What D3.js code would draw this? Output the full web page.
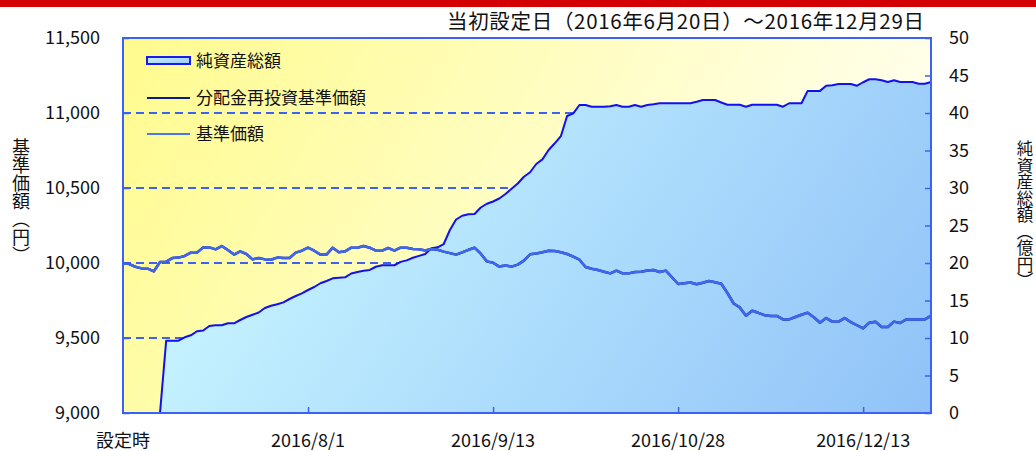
<!DOCTYPE html>
<html><head><meta charset="utf-8">
<script src="https://cdn.jsdelivr.net/npm/d3@7"></script>
<style>
body{margin:0;background:#fff;}
svg{display:block;font-family:"Noto Sans CJK JP","Noto Sans",sans-serif;}
</style>
</head><body>
<svg id="chart" width="1036" height="451"></svg>
<script>
// ---- data ----
const titleText = "当初設定日（2016年6月20日）～2016年12月29日";
const leftAxisTitle = "基準価額（円）";
const rightAxisTitle = "純資産総額（億円）";
const legendLabels = ["純資産総額", "分配金再投資基準価額", "基準価額"];
const xTickLabels = ["設定時", "2016/8/1", "2016/9/13", "2016/10/28", "2016/12/13"];
const xTickIndex = [0, 30, 60, 90, 120];
const leftTicks = [9000, 9500, 10000, 10500, 11000, 11500];
const rightTicks = [0, 5, 10, 15, 20, 25, 30, 35, 40, 45, 50];
const gridValues = [9500, 10000, 10500, 11000];

// 基準価額 (円)
const navValues = [
10000,9993,9975,9964,9962,9944,10007,10009,10033,10036,
10047,10069,10069,10104,10104,10091,10113,10087,10056,10078,
10060,10024,10033,10024,10022,10036,10033,10033,10069,10082,
10102,10082,10056,10056,10102,10071,10078,10102,10102,10113,
10102,10082,10082,10100,10082,10102,10102,10093,10091,10084,
10093,10088,10076,10066,10056,10071,10088,10102,10062,10011,
10002,9976,9984,9976,9989,10016,10058,10064,10072,10082,
10080,10072,10060,10042,10022,9973,9962,9953,9942,9931,
9949,9931,9931,9940,9942,9950,9953,9940,9949,9905,
9860,9865,9870,9858,9868,9880,9872,9862,9800,9730,
9704,9648,9682,9668,9652,9647,9647,9624,9624,9640,
9655,9669,9638,9602,9633,9609,9609,9633,9606,9585,
9564,9602,9609,9573,9573,9609,9600,9624,9624,9624,
9624,9647];
// 分配金再投資基準価額 (円) - no distributions, identical to 基準価額
const reinvestValues = navValues.slice();
// 純資産総額 (億円)
const assetValues = [
0,0,0,0,0,0,0,9.64,9.64,9.64,
10.09,10.36,10.9,11.0,11.6,11.69,11.69,11.96,11.96,12.4,
12.8,13.1,13.4,14.0,14.3,14.5,14.75,15.2,15.6,15.96,
16.4,16.8,17.3,17.6,17.96,18.04,18.09,18.6,18.8,18.98,
19.07,19.5,19.69,19.69,19.7,20.15,20.35,20.7,20.95,21.2,
21.96,22.09,22.53,24.4,25.8,26.3,26.5,26.53,27.4,27.9,
28.2,28.6,29.2,29.9,30.6,31.5,32.1,33.2,33.82,35.07,
35.96,36.93,39.6,39.96,41.07,41.07,40.84,40.84,40.84,40.9,
41.07,40.84,40.84,41.07,40.84,41.07,41.16,41.29,41.29,41.29,
41.29,41.29,41.29,41.5,41.73,41.73,41.73,41.4,41.1,41.1,
41.1,40.84,41.1,41.1,41.1,41.1,41.1,40.84,41.3,41.3,
41.3,42.95,42.95,42.95,43.64,43.69,43.87,43.87,43.87,43.64,
44.1,44.5,44.5,44.36,44.13,44.36,44.13,44.13,44.13,43.91,
43.91,44.13];
const categories = navValues.map((d, i) => i);

// ---- layout ----
const svg = d3.select("#chart");
const L = 123, R = 931, T = 38, B = 413;
const x = d3.scalePoint().domain(categories).range([L, R]);
const yL = d3.scaleLinear().domain([9000, 11500]).range([B, T]);
const yR = d3.scaleLinear().domain([0, 50]).range([B, T]);
const blue = "#3b62f2";

const defs = svg.append("defs");
const bg = defs.append("linearGradient").attr("id","bg").attr("gradientUnits","userSpaceOnUse")
  .attr("x1",L).attr("y1",T).attr("x2",R*0.8).attr("y2",B);
bg.append("stop").attr("offset",0).attr("stop-color","#fffb8e");
bg.append("stop").attr("offset",1).attr("stop-color","#ffffec");
const ag = defs.append("linearGradient").attr("id","ag").attr("gradientUnits","userSpaceOnUse")
  .attr("x1",L+250).attr("y1",T).attr("x2",R).attr("y2",B);
ag.append("stop").attr("offset",0).attr("stop-color","#c4f2ff");
ag.append("stop").attr("offset",1).attr("stop-color","#90c2f8");
const lg = defs.append("linearGradient").attr("id","lg").attr("x1",0).attr("y1",0).attr("x2",1).attr("y2",1);
lg.append("stop").attr("offset",0).attr("stop-color","#c8f2ff");
lg.append("stop").attr("offset",1).attr("stop-color","#98c8f8");

// top red bar
svg.append("rect").attr("x",0).attr("y",0).attr("width",1036).attr("height",7).attr("fill","#d40000");

// title
svg.append("text").attr("x",924).attr("y",29).attr("text-anchor","end")
  .attr("font-size",20.5).attr("fill","#111")
  .attr("textLength",477).attr("lengthAdjust","spacing").text(titleText);

// plot background
svg.append("rect").attr("x",L).attr("y",T).attr("width",R-L).attr("height",B-T).attr("fill","url(#bg)");

// gridlines
svg.append("g").selectAll("line").data(gridValues).join("line")
  .attr("x1",L).attr("x2",R).attr("y1",d=>yL(d)).attr("y2",d=>yL(d))
  .attr("stroke",blue).attr("stroke-width",2).attr("stroke-dasharray","8,5");

// area
const area = d3.area().x((d,i)=>x(i)).y0(B).y1(d=>yR(d));
svg.append("path").datum(assetValues).attr("d",area).attr("fill","url(#ag)");
const aLine = d3.line().x((d,i)=>x(i)).y(d=>yR(d));
svg.append("path").datum(assetValues).attr("d",aLine).attr("fill","none")
  .attr("stroke","#1010f0").attr("stroke-width",2).attr("stroke-linejoin","round");

const nLine = d3.line().x((d,i)=>x(i)).y(d=>yL(d));
svg.append("path").datum(reinvestValues).attr("d",nLine).attr("fill","none")
  .attr("stroke","#0d1a8c").attr("stroke-width",2.5).attr("stroke-linejoin","round");
svg.append("path").datum(navValues).attr("d",nLine).attr("fill","none")
  .attr("stroke","#3e66ee").attr("stroke-width",2.5).attr("stroke-linejoin","round");

// border
svg.append("rect").attr("x",L).attr("y",T).attr("width",R-L).attr("height",B-T)
  .attr("fill","none").attr("stroke",blue).attr("stroke-width",2);

// left axis
const gl = svg.append("g").attr("transform",`translate(${L},0)`)
  .call(d3.axisRight(yL).tickValues(leftTicks).tickSize(6).tickFormat(""));
gl.select(".domain").remove();
gl.selectAll("line").attr("stroke",blue).attr("stroke-width",1.5);
svg.append("g").selectAll("text").data(leftTicks).join("text")
  .attr("x",100).attr("y",d=>yL(d)).attr("dy","0.35em").attr("text-anchor","end")
  .attr("font-size",18).attr("fill","#111").text(d=>d3.format(",")(d));

// right axis
const gr = svg.append("g").attr("transform",`translate(${R},0)`)
  .call(d3.axisLeft(yR).tickValues(rightTicks).tickSize(6).tickFormat(""));
gr.select(".domain").remove();
gr.selectAll("line").attr("stroke",blue).attr("stroke-width",1.5);
svg.append("g").selectAll("text").data(rightTicks).join("text")
  .attr("x",949).attr("y",d=>yR(d)).attr("dy","0.35em").attr("text-anchor","start")
  .attr("font-size",18).attr("fill","#111").text(d=>d);

// x axis
const gx = svg.append("g").attr("transform",`translate(0,${B})`)
  .call(d3.axisTop(x).tickValues(xTickIndex.slice(1)).tickSize(6).tickFormat(""));
gx.select(".domain").remove();
gx.selectAll("line").attr("stroke",blue).attr("stroke-width",1.5);
svg.append("g").selectAll("text").data(xTickLabels).join("text")
  .attr("x",(d,i)=>x(xTickIndex[i])).attr("y",447).attr("text-anchor","middle")
  .attr("font-size",18).attr("fill","#111").text(d=>d);

// axis titles
svg.append("text").attr("x",21).attr("y",201).attr("text-anchor","middle")
  .style("writing-mode","vertical-rl").attr("font-size",18).attr("fill","#111").text(leftAxisTitle);
svg.append("text").attr("x",1025).attr("y",215).attr("text-anchor","middle")
  .style("writing-mode","vertical-rl").attr("font-size",16.5).attr("fill","#111").text(rightAxisTitle);

// legend
const lgd = svg.append("g");
lgd.append("rect").attr("x",147).attr("y",57).attr("width",43).attr("height",7)
  .attr("fill","url(#lg)").attr("stroke","#1a1af0").attr("stroke-width",2);
lgd.append("line").attr("x1",147).attr("x2",190).attr("y1",98).attr("y2",98)
  .attr("stroke","#0d1a8c").attr("stroke-width",2);
lgd.append("line").attr("x1",147).attr("x2",190).attr("y1",134).attr("y2",134)
  .attr("stroke","#4a78ee").attr("stroke-width",2);
lgd.selectAll("text").data(legendLabels).join("text")
  .attr("x",196).attr("y",(d,i)=>[61,98,134][i]).attr("dy","0.35em")
  .attr("font-size",17).attr("fill","#111").text(d=>d);
</script>
</body></html>
